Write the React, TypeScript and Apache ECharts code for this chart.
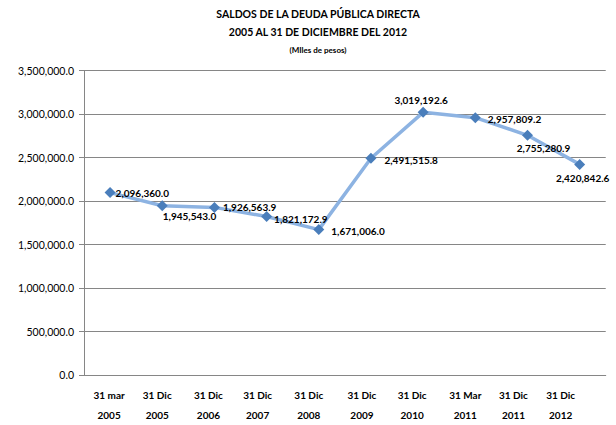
import React, { useEffect, useRef } from "react";
import * as echarts from "echarts";

const categories = [
  "31 mar\n2005",
  "31 Dic\n2005",
  "31 Dic\n2006",
  "31 Dic\n2007",
  "31 Dic\n2008",
  "31 Dic\n2009",
  "31 Dic\n2010",
  "31 Mar\n2011",
  "31 Dic\n2011",
  "31 Dic\n2012",
];

const saldos = [
  2096360.0, 1945543.0, 1926563.9, 1821172.9, 1671006.0, 2491515.8, 3019192.6,
  2957809.2, 2755280.9, 2420842.6,
];

const titleLines = [
  "SALDOS DE LA DEUDA PÚBLICA DIRECTA",
  "2005 AL 31 DE DICIEMBRE DEL 2012",
];
const subtitle = "(MIles de pesos)";

// label placement (style only)
const labelPlacement: { position: string; offset: [number, number] }[] = [
  { position: "right", offset: [0, 0] },
  { position: "right", offset: [-5, 10] },
  { position: "right", offset: [3, 0] },
  { position: "right", offset: [2, 2] },
  { position: "right", offset: [7, 1] },
  { position: "right", offset: [8, 2] },
  { position: "top", offset: [-2, 0] },
  { position: "right", offset: [7, 1] },
  { position: "bottom", offset: [16, 0] },
  { position: "bottom", offset: [3, 1] },
];

// x label horizontal shift (style only)
const labelShift = [1, 5, 6, 9, 10, 9, 11, 10, 14, 19];

const FONT = 'Lato, "Open Sans", sans-serif';

const fmt = (v: number) =>
  v.toLocaleString("en-US", { minimumFractionDigits: 1, maximumFractionDigits: 1 });

export default function App() {
  const ref = useRef<HTMLDivElement>(null);
  useEffect(() => {
    if (!ref.current) return;
    const chart = echarts.init(ref.current, null, { renderer: "svg" });
    const titleStyle = (text: string, size: number) => ({
      text,
      fontFamily: FONT,
      fontWeight: "bold",
      fontSize: size,
      fill: "#000",
      align: "center",
      verticalAlign: "middle",
    });
    chart.setOption({
      animation: false,
      backgroundColor: "#ffffff",
      graphic: [
        { type: "text", x: 318, y: 14, style: titleStyle(titleLines[0], 10.5) },
        { type: "text", x: 318, y: 31.5, style: titleStyle(titleLines[1], 10.5) },
        { type: "text", x: 318, y: 50, style: titleStyle(subtitle, 8) },
      ],
      grid: { left: 84, right: 8, top: 70.5, bottom: 44.3, containLabel: false },
      xAxis: {
        type: "category",
        boundaryGap: true,
        data: categories.map((c, i) => ({
          value: c,
          textStyle: { padding: [0, labelShift[i] * 2, 0, 0] },
        })),
        axisLine: { show: true, lineStyle: { color: "#868686", width: 1 } },
        axisTick: { show: false },
        axisLabel: {
          interval: 0,
          margin: 10,
          fontFamily: FONT,
          fontWeight: "bold",
          fontSize: 10,
          lineHeight: 20,
          color: "#000",
        },
      },
      yAxis: {
        type: "value",
        min: 0,
        max: 3500000,
        interval: 500000,
        axisLine: { show: true, lineStyle: { color: "#868686", width: 1 } },
        axisTick: { show: true, length: 5, lineStyle: { color: "#868686" } },
        splitLine: { show: true, lineStyle: { color: "#868686", width: 1 } },
        axisLabel: {
          formatter: (v: number) => fmt(v),
          fontFamily: FONT,
          fontSize: 10.5,
          color: "#000",
          margin: 10,
        },
      },
      series: [
        {
          type: "line",
          data: saldos.map((v, i) => ({
            value: v,
            label: {
              position: labelPlacement[i].position,
              offset: labelPlacement[i].offset,
              distance: labelPlacement[i].position === "right" ? 0 : 2,
            },
          })),
          symbol: "diamond",
          symbolSize: 11,
          itemStyle: { color: "#4a7ebb" },
          lineStyle: { color: "#8db3e2", width: 3.5 },
          label: {
            show: true,
            formatter: (p: any) => fmt(p.value),
            fontFamily: FONT,
            fontWeight: "bold",
            fontSize: 10,
            color: "#000",
          },
        },
      ],
    });
    return () => chart.dispose();
  }, []);
  return (
    <div
      ref={ref}
      style={{ position: "fixed", left: 0, top: 0, width: 616, height: 425 }}
    />
  );
}
